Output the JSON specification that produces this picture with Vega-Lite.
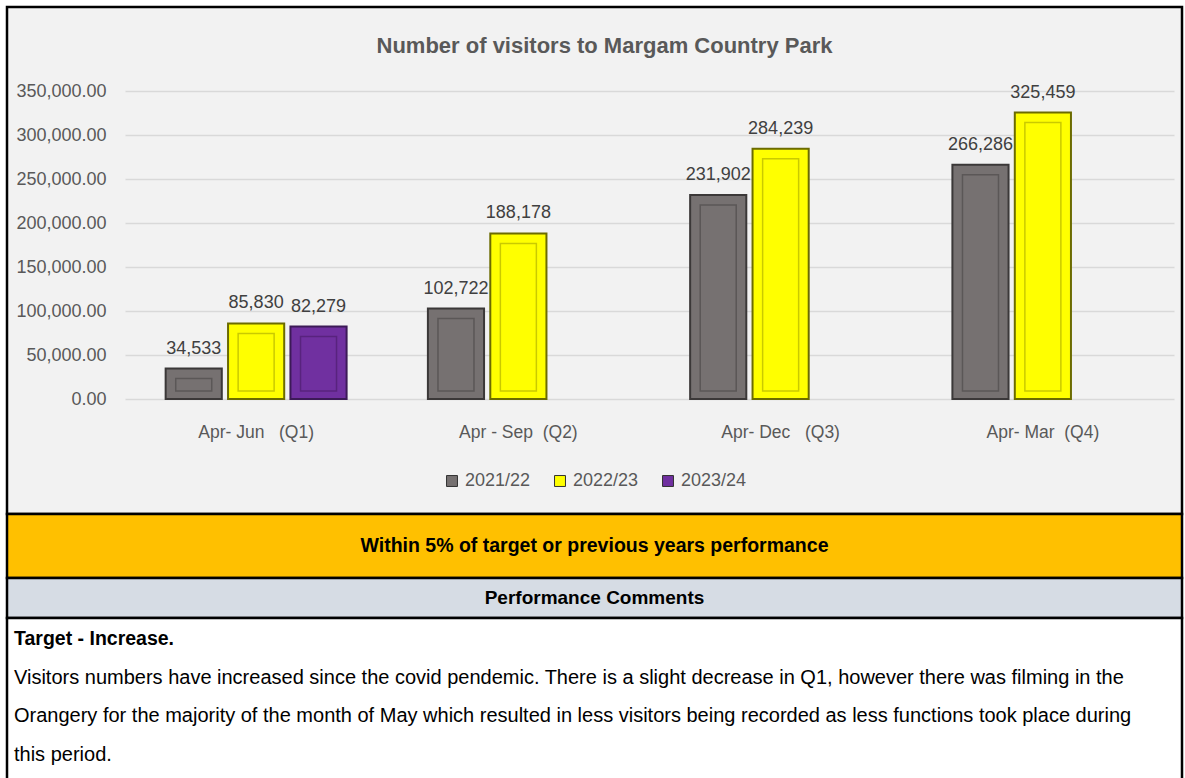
{
  "$schema": "https://vega.github.io/schema/vega-lite/v6.json",
  "background": "#ffffff",
  "padding": {"top": 5, "left": 5, "right": 5, "bottom": 0},
  "spacing": 0,
  "bounds": "flush",
  "config": {
    "font": "Liberation Sans, Arial, sans-serif",
    "view": {"stroke": null},
    "legend": {"layout": {"bottom": {"anchor": "middle"}}}
  },
  "resolve": {"scale": {"color": "independent", "stroke": "independent"}, "legend": {"color": "independent"}},
  "datasets": {
    "visitors": [
      {"period": "Apr- Jun\u00a0\u00a0\u00a0(Q1)", "year": "2021/22", "visitors": 34533},
      {"period": "Apr- Jun\u00a0\u00a0\u00a0(Q1)", "year": "2022/23", "visitors": 85830},
      {"period": "Apr- Jun\u00a0\u00a0\u00a0(Q1)", "year": "2023/24", "visitors": 82279},
      {"period": "Apr - Sep\u00a0\u00a0(Q2)", "year": "2021/22", "visitors": 102722},
      {"period": "Apr - Sep\u00a0\u00a0(Q2)", "year": "2022/23", "visitors": 188178},
      {"period": "Apr- Dec\u00a0\u00a0\u00a0(Q3)", "year": "2021/22", "visitors": 231902},
      {"period": "Apr- Dec\u00a0\u00a0\u00a0(Q3)", "year": "2022/23", "visitors": 284239},
      {"period": "Apr- Mar\u00a0\u00a0(Q4)", "year": "2021/22", "visitors": 266286},
      {"period": "Apr- Mar\u00a0\u00a0(Q4)", "year": "2022/23", "visitors": 325459}
    ],
    "banner": [{"t": "Within 5% of target or previous years performance"}],
    "header": [{"t": "Performance Comments"}],
    "comments": [
      {"line": 1, "t": "Target - Increase."},
      {"line": 2, "t": "Visitors numbers have increased since the covid pendemic. There is a slight decrease in Q1, however there was filming in the"},
      {"line": 3, "t": "Orangery for the majority of the month of May which resulted in less visitors being recorded as less functions took place during"},
      {"line": 4, "t": "this period."}
    ]
  },
  "vconcat": [
    {
      "width": 1175,
      "height": 507,
      "view": {"fill": "#f2f2f2", "stroke": "#000000", "strokeWidth": 2.5},
      "title": {
        "text": "Number of visitors to Margam Country Park",
        "fontSize": 22,
        "fontWeight": "bold",
        "color": "#595959",
        "anchor": "middle",
        "frame": "group",
        "dx": 10,
        "offset": -51
      },
      "data": {"name": "visitors"},
      "encoding": {
        "x": {
          "field": "period",
          "type": "nominal",
          "sort": null,
          "scale": {"range": [118, 1167], "paddingInner": 0.31, "paddingOuter": 0.155},
          "axis": {
            "title": null,
            "labelAngle": 0,
            "labelFontSize": 17.5,
            "labelColor": "#595959",
            "labelPadding": 24,
            "ticks": false,
            "domain": false,
            "offset": -115
          }
        },
        "xOffset": {
          "field": "year",
          "type": "nominal",
          "sort": ["2021/22", "2022/23", "2023/24"],
          "scale": {"domain": ["2021/22", "2022/23", "2023/24"], "paddingInner": 0.1, "paddingOuter": 0}
        },
        "y": {
          "field": "visitors",
          "type": "quantitative",
          "scale": {"domain": [0, 350000], "range": [392, 84], "nice": false},
          "axis": {
            "title": null,
            "values": [0, 50000, 100000, 150000, 200000, 250000, 300000, 350000],
            "format": ",.2f",
            "labelFontSize": 18,
            "labelColor": "#595959",
            "labelPadding": 19,
            "ticks": false,
            "domain": false,
            "gridColor": "#d9d9d9",
            "gridWidth": 1.5,
            "offset": -118
          }
        }
      },
      "layer": [
        {
          "mark": {"type": "bar", "strokeWidth": 2},
          "encoding": {
            "color": {
              "field": "year",
              "type": "nominal",
              "scale": {"domain": ["2021/22", "2022/23", "2023/24"], "range": ["#767171", "#ffff00", "#7030a0"]},
              "legend": {
                "title": null,
                "orient": "bottom",
                "direction": "horizontal",
                "symbolType": "square",
                "symbolSize": 120,
                "symbolStrokeColor": "#333333",
                "symbolStrokeWidth": 1,
                "labelFontSize": 18,
                "labelColor": "#595959",
                "columnPadding": 20,
                "offset": -42
              }
            },
            "stroke": {
              "field": "year",
              "type": "nominal",
              "scale": {"domain": ["2021/22", "2022/23", "2023/24"], "range": ["#3b3838", "#6b6b00", "#3c1a57"]},
              "legend": null
            }
          }
        },
        {
          "mark": {"type": "bar", "filled": false, "width": 36, "yOffset": 10, "y2Offset": -8, "strokeWidth": 1.5},
          "encoding": {
            "y": {"field": "visitors", "type": "quantitative", "stack": null},
            "y2": {"datum": 0},
            "stroke": {
              "field": "year",
              "type": "nominal",
              "scale": {"domain": ["2021/22", "2022/23", "2023/24"], "range": ["#5b5757", "#caca00", "#58237e"]},
              "legend": null
            }
          }
        },
        {
          "mark": {"type": "text", "baseline": "alphabetic", "dy": -15, "fontSize": 18, "color": "#404040"},
          "encoding": {
            "text": {"field": "visitors", "type": "quantitative", "format": ","}
          }
        }
      ],
      "resolve": {"scale": {"stroke": "independent"}}
    },
    {
      "width": 1175,
      "height": 64,
      "view": {"fill": "#ffc000", "stroke": "#000000", "strokeWidth": 2.5},
      "data": {"name": "banner"},
      "mark": {"type": "text", "fontSize": 19.5, "fontWeight": "bold", "color": "#000000"},
      "encoding": {"text": {"field": "t", "type": "nominal"}}
    },
    {
      "width": 1175,
      "height": 40,
      "view": {"fill": "#d6dce4", "stroke": "#000000", "strokeWidth": 2.5},
      "data": {"name": "header"},
      "mark": {"type": "text", "fontSize": 19, "fontWeight": "bold", "color": "#000000"},
      "encoding": {"text": {"field": "t", "type": "nominal"}}
    },
    {
      "width": 1175,
      "height": 162,
      "view": {"fill": "#ffffff", "stroke": "#000000", "strokeWidth": 2.5},
      "data": {"name": "comments"},
      "encoding": {
        "x": {"datum": 0, "type": "quantitative", "scale": {"domain": [0, 1]}, "axis": null},
        "y": {"field": "line", "type": "ordinal", "axis": null, "scale": {"type": "point", "range": [21, 137], "padding": 0}},
        "text": {"field": "t", "type": "nominal"}
      },
      "layer": [
        {
          "transform": [{"filter": "datum.line == 1"}],
          "mark": {"type": "text", "align": "left", "baseline": "middle", "dx": 7, "fontSize": 19.5, "fontWeight": "bold", "color": "#000000"}
        },
        {
          "transform": [{"filter": "datum.line > 1"}],
          "mark": {"type": "text", "align": "left", "baseline": "middle", "dx": 7, "fontSize": 20, "color": "#000000"}
        }
      ]
    }
  ]
}
